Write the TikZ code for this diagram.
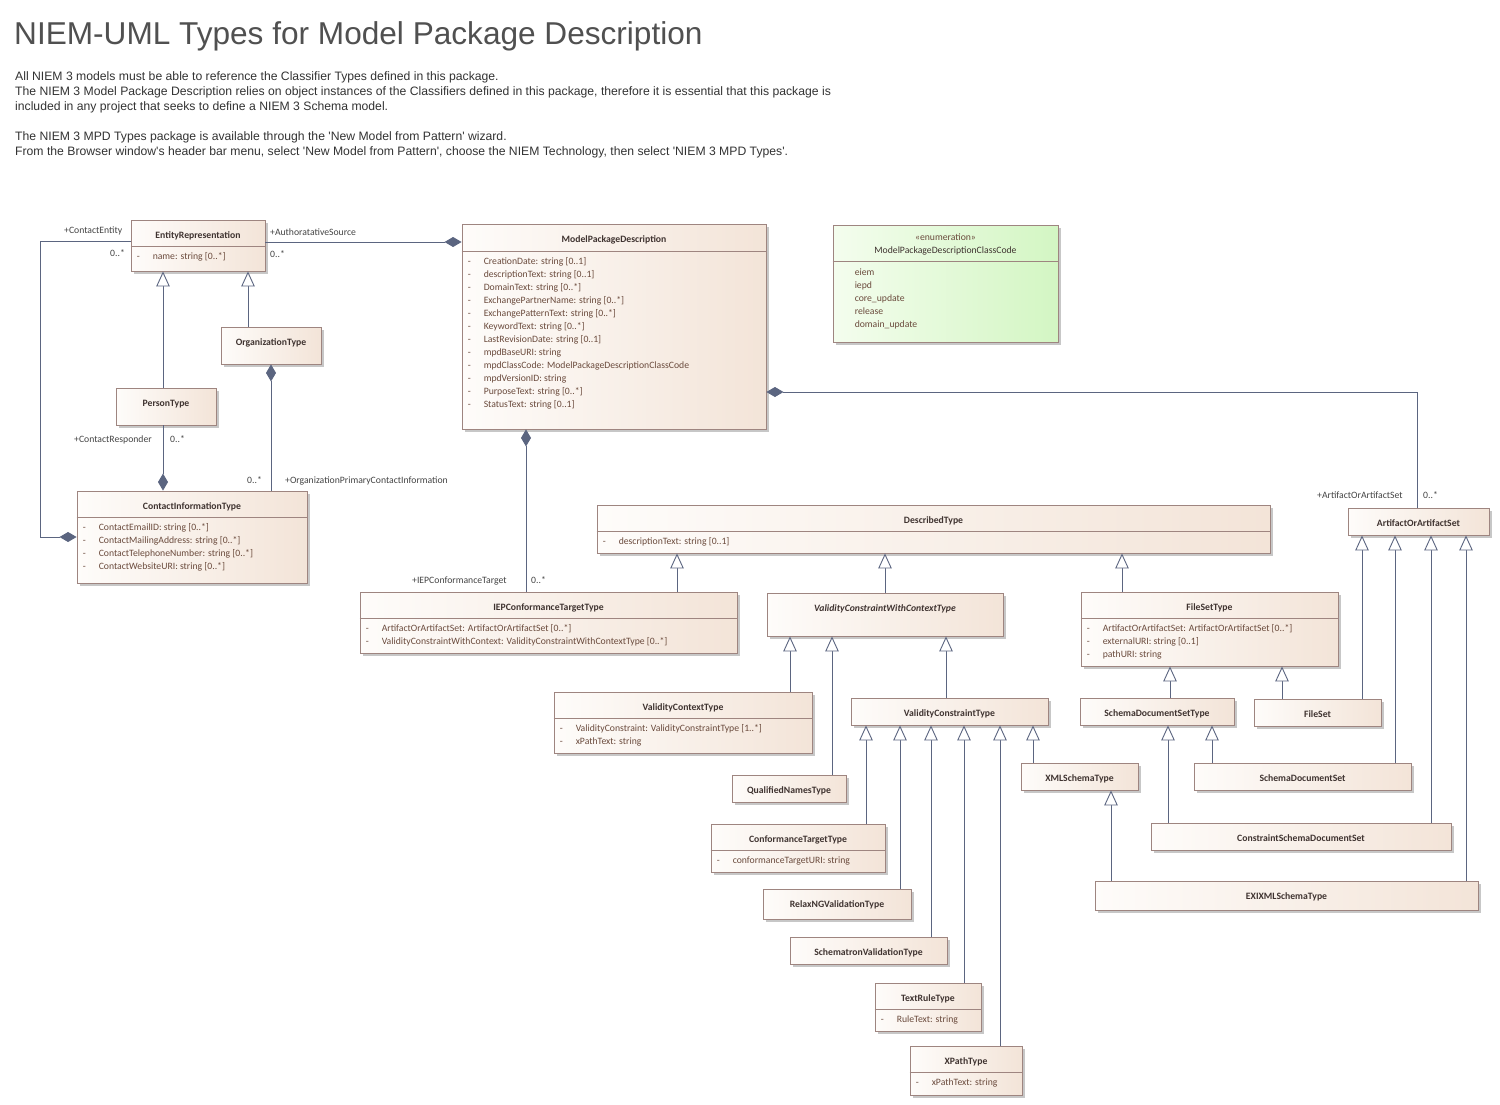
\documentclass[tikz,border=0pt]{standalone}
\usepackage{fontspec}
\setmainfont{Carlito}
\newfontfamily\arialf{Liberation Sans}
\usetikzlibrary{arrows.meta,shadows,fit,calc}
\definecolor{boxL}{HTML}{FEFCFA}
\definecolor{boxR}{HTML}{F3E4D8}
\definecolor{boxB}{HTML}{9E8580}
\definecolor{lineC}{HTML}{5B6580}
\definecolor{enumL}{HTML}{F4FDEE}
\definecolor{enumR}{HTML}{D3F6C3}
\definecolor{txtH}{HTML}{3F3330}
\definecolor{txtA}{HTML}{6A4A3C}
\definecolor{lblC}{HTML}{444444}
\definecolor{titleC}{HTML}{505050}
\definecolor{descC}{HTML}{333333}
\tikzset{
  cls/.style={draw=boxB, line width=0.9pt, left color=boxL, right color=boxR, inner sep=0pt,
    drop shadow={shadow xshift=3pt, shadow yshift=-3pt, fill=black!22, opacity=1}},
  enumcls/.style={cls, left color=enumL, right color=enumR},
  hdr/.style={font=\fontsize{9.7}{11}\selectfont\bfseries, text=txtH, inner sep=0pt, text height=6.8pt, text depth=2pt},
  attr/.style={font=\fontsize{9.7}{11}\selectfont, text=txtA, inner sep=0pt, text height=6.8pt, text depth=2pt},
  lbl/.style={font=\fontsize{9.7}{11}\selectfont, text=lblC, inner sep=0pt, anchor=west, text height=6.8pt, text depth=2pt},
  desc/.style={anchor=base west, inner sep=0pt, font=\arialf\fontsize{12.2}{15}\selectfont, text=descC},
  divl/.style={draw=boxB, line width=0.9pt},
  assoc/.style={draw=lineC, line width=0.9pt},
  comp/.style={assoc, -{Diamond[length=17pt,width=10pt,fill=lineC]}},
  gen/.style={assoc, -{Triangle[open,length=15pt,width=13.5pt,fill=white]}}
}
\newcommand\umlcls[6]{%
  \node[cls, fit={(#2,#3) (#4,#5)}] (#1) {};
  \node[hdr] (#1-t) at ([yshift=-17pt]#1.north) {#6};
}
\newcommand\umldiv[2]{\draw[divl] ([yshift=-#2pt]#1.north west) -- ([yshift=-#2pt]#1.north east);}
\newcommand\umlattr[3]{%
  \foreach \t [count=\i] in {#3} {
    \node[attr, anchor=west] (#1-d\i) at ([xshift=6pt, yshift={-(#2+11+13*(\i-1))}]#1.north west) {-};
    \node[attr, anchor=west] (#1-a\i) at ([xshift=22pt, yshift={-(#2+11+13*(\i-1))}]#1.north west) {\t};
  }}
\begin{document}
\begin{tikzpicture}[x=1pt,y=-1pt]
\useasboundingbox (0,0) rectangle (1500,1105);
\fill[white] (0,0) rectangle (1500,1105);
% title and description
\node[anchor=base west, inner sep=0pt, font=\arialf\fontsize{31.6}{34}\selectfont, text=titleC] (title) at (14,45) {NIEM-UML Types for Model Package Description};
\node[desc] (desc1) at (15,80.5) {All NIEM 3 models must be able to reference the Classifier Types defined in this package.};
\node[desc] (desc2) at (15,95.5) {The NIEM 3 Model Package Description relies on object instances of the Classifiers defined in this package, therefore it is essential that this package is};
\node[desc] (desc3) at (15,110.5) {included in any project that seeks to define a NIEM 3 Schema model.};
\node[desc] (desc4) at (15,140.5) {The NIEM 3 MPD Types package is available through the 'New Model from Pattern' wizard.};
\node[desc] (desc5) at (15,155.5) {From the Browser window's header bar menu, select 'New Model from Pattern', choose the NIEM Technology, then select 'NIEM 3 MPD Types'.};

% classes
\umlcls{ER}{131}{220}{265}{271}{EntityRepresentation}
\umldiv{ER}{27}\umlattr{ER}{27}{{name: string [0..*]}}
\umlcls{MPD}{462}{224}{766}{429}{ModelPackageDescription}
\umldiv{MPD}{28}
\umlattr{MPD}{28}{{CreationDate: string [0..1]},{descriptionText: string [0..1]},{DomainText: string [0..*]},{ExchangePartnerName: string [0..*]},{ExchangePatternText: string [0..*]},{KeywordText: string [0..*]},{LastRevisionDate: string [0..1]},{mpdBaseURI: string},{mpdClassCode: ModelPackageDescriptionClassCode},{mpdVersionID: string},{PurposeText: string [0..*]},{StatusText: string [0..1]}}
% enumeration
\node[enumcls, fit={(833,225) (1058,342)}] (ENUM) {};
\node[attr, text=txtA] (ENUM-s) at ([yshift=-14pt]ENUM.north) {«enumeration»};
\node[attr, text=txtH] (ENUM-t) at ([yshift=-27pt]ENUM.north) {ModelPackageDescriptionClassCode};
\umldiv{ENUM}{37}
\foreach \t [count=\i] in {eiem,iepd,core\_update,release,domain\_update} {
  \node[attr, anchor=west] (ENUM-a\i) at ([xshift=22pt, yshift={-(48.5+13*(\i-1))}]ENUM.north west) {\t};
}
\umlcls{OT}{221}{327}{321}{364}{OrganizationType}
\umlcls{PT}{116}{388}{216}{425}{PersonType}
\umlcls{CIT}{77}{491}{307}{583}{ContactInformationType}
\umldiv{CIT}{27}\umlattr{CIT}{27}{{ContactEmailID: string [0..*]},{ContactMailingAddress: string [0..*]},{ContactTelephoneNumber: string [0..*]},{ContactWebsiteURI: string [0..*]}}
\umlcls{DT}{597}{505}{1270}{553}{DescribedType}
\umldiv{DT}{27}\umlattr{DT}{27}{{descriptionText: string [0..1]}}
\umlcls{AOAS}{1348}{508}{1489}{535}{ArtifactOrArtifactSet}
\umlcls{IEP}{360}{592}{737}{653}{IEPConformanceTargetType}
\umldiv{IEP}{27}\umlattr{IEP}{27}{{ArtifactOrArtifactSet: ArtifactOrArtifactSet [0..*]},{ValidityConstraintWithContext: ValidityConstraintWithContextType [0..*]}}
\umlcls{VCWC}{767}{593}{1003}{636}{\itshape ValidityConstraintWithContextType}
\umlcls{FST}{1081}{592}{1338}{666}{FileSetType}
\umldiv{FST}{27}\umlattr{FST}{27}{{ArtifactOrArtifactSet: ArtifactOrArtifactSet [0..*]},{externalURI: string [0..1]},{pathURI: string}}
\umlcls{VCX}{554}{692}{812}{753}{ValidityContextType}
\umldiv{VCX}{27}\umlattr{VCX}{27}{{ValidityConstraint: ValidityConstraintType [1..*]},{xPathText: string}}
\umlcls{VCT}{851}{698}{1048}{725}{ValidityConstraintType}
\umlcls{SDST}{1080}{698}{1234}{725}{SchemaDocumentSetType}
\umlcls{FS}{1254}{699}{1381}{726}{FileSet}
\umlcls{XST}{1021}{763}{1138}{790}{XMLSchemaType}
\umlcls{SDS}{1194}{763}{1411}{790}{SchemaDocumentSet}
\umlcls{QNT}{732}{775}{846}{802}{QualifiedNamesType}
\umlcls{CSDS}{1151}{823}{1451}{850}{ConstraintSchemaDocumentSet}
\umlcls{CTT}{711}{824}{885}{872}{ConformanceTargetType}
\umldiv{CTT}{27}\umlattr{CTT}{27}{{conformanceTargetURI: string}}
\umlcls{EXI}{1095}{881}{1478}{910}{EXIXMLSchemaType}
\umlcls{RNG}{763}{889}{911}{919}{RelaxNGValidationType}
\umlcls{SCH}{790}{937}{947}{964}{SchematronValidationType}
\umlcls{TRT}{875}{983}{981}{1031}{TextRuleType}
\umldiv{TRT}{27}\umlattr{TRT}{27}{{RuleText: string}}
\umlcls{XPT}{910}{1046}{1022}{1095}{XPathType}
\umldiv{XPT}{27}\umlattr{XPT}{27}{{xPathText: string}}

% associations (composition)
\draw[comp] (ER.west |- 0,241) -| (40,537) -- (CIT.west |- 0,537);
\draw[comp] (ER.east |- 0,242) -- (MPD.west |- 0,242);
\draw[comp] (163,0 |- PT.south) -- (163,0 |- CIT.north);
\draw[comp] (271,0 |- CIT.north) -- (271,0 |- OT.south);
\draw[comp] (526,0 |- IEP.north) -- (526,0 |- MPD.south);
\draw[comp] (1417,0 |- AOAS.north) |- (MPD.east |- 0,392);

% association labels
\node[lbl] (l1) at (64,231) {+ContactEntity};
\node[lbl] (l2) at (110,254) {0..*};
\node[lbl] (l3) at (270,233) {+AuthoratativeSource};
\node[lbl] (l4) at (270,255) {0..*};
\node[lbl] (l5) at (74,440) {+ContactResponder};
\node[lbl] (l6) at (170,440) {0..*};
\node[lbl] (l7) at (247,481) {0..*};
\node[lbl] (l8) at (285,481) {+OrganizationPrimaryContactInformation};
\node[lbl] (l9) at (412,581) {+IEPConformanceTarget};
\node[lbl] (l10) at (531,581) {0..*};
\node[lbl] (l11) at (1317,496) {+ArtifactOrArtifactSet};
\node[lbl] (l12) at (1423,496) {0..*};

% generalizations
\draw[gen] (163,0 |- PT.north) -- (163,0 |- ER.south);
\draw[gen] (248,0 |- OT.north) -- (248,0 |- ER.south);
\draw[gen] (677,0 |- IEP.north) -- (677,0 |- DT.south);
\draw[gen] (885,0 |- VCWC.north) -- (885,0 |- DT.south);
\draw[gen] (1122,0 |- FST.north) -- (1122,0 |- DT.south);
\draw[gen] (790,0 |- VCX.north) -- (790,0 |- VCWC.south);
\draw[gen] (832,0 |- QNT.north) -- (832,0 |- VCWC.south);
\draw[gen] (946,0 |- VCT.north) -- (946,0 |- VCWC.south);
\draw[gen] (866,0 |- CTT.north) -- (866,0 |- VCT.south);
\draw[gen] (900,0 |- RNG.north) -- (900,0 |- VCT.south);
\draw[gen] (931,0 |- SCH.north) -- (931,0 |- VCT.south);
\draw[gen] (964,0 |- TRT.north) -- (964,0 |- VCT.south);
\draw[gen] (1000,0 |- XPT.north) -- (1000,0 |- VCT.south);
\draw[gen] (1033,0 |- XST.north) -- (1033,0 |- VCT.south);
\draw[gen] (1170,0 |- SDST.north) -- (1170,0 |- FST.south);
\draw[gen] (1282,0 |- FS.north) -- (1282,0 |- FST.south);
\draw[gen] (1168,0 |- CSDS.north) -- (1168,0 |- SDST.south);
\draw[gen] (1212,0 |- SDS.north) -- (1212,0 |- SDST.south);
\draw[gen] (1111,0 |- EXI.north) -- (1111,0 |- XST.south);
\draw[gen] (1362,0 |- FS.north) -- (1362,0 |- AOAS.south);
\draw[gen] (1395,0 |- SDS.north) -- (1395,0 |- AOAS.south);
\draw[gen] (1431,0 |- CSDS.north) -- (1431,0 |- AOAS.south);
\draw[gen] (1466,0 |- EXI.north) -- (1466,0 |- AOAS.south);
\end{tikzpicture}
\end{document}
